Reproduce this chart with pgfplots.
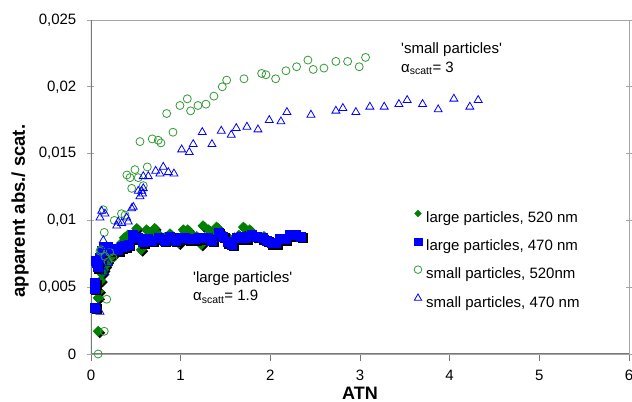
\documentclass[border=0pt]{standalone}
\usepackage{pgfplots}
\pgfplotsset{compat=1.18}
\usepackage{fontspec}
\setmainfont{Liberation Sans}
\definecolor{dgreen}{RGB}{0,128,0}
\definecolor{lgreen}{RGB}{51,153,51}
\definecolor{myblue}{RGB}{0,0,255}
\definecolor{axgray}{RGB}{120,120,120}
\definecolor{frgray}{RGB}{165,165,165}
\begin{document}
\fontsize{15bp}{18bp}\selectfont
\begin{tikzpicture}
\path[use as bounding box] (-91bp,-48bp) rectangle (541bp,354bp);
\begin{axis}[
  scale only axis, width=538bp, height=334bp,
  at={(0,0)}, anchor=south west,
  xmin=0, xmax=6, ymin=0, ymax=0.025,
  xtick={0,1,2,3,4,5,6}, xticklabels={0,1,2,3,4,5,6},
  ytick={0,0.005,0.01,0.015,0.02,0.025},
  yticklabels={0,{0,005},{0,01},{0,015},{0,02},{0,025}},
  scaled y ticks=false,
  axis line style={frgray, line width=0.8bp},
  tick align=center, major tick length=7bp,
  xtick pos=bottom, ytick pos=both,
  x tick style={axgray, line width=0.8bp, yshift=-3.5bp},
  y tick style={frgray, line width=0.8bp},
  ticklabel style={font=\fontsize{15bp}{18bp}\selectfont},
  yticklabel style={xshift=-6bp},
  xticklabel style={yshift=-7bp},
  xlabel={ATN},
  ylabel={apparent abs./ scat.},
  xlabel style={font=\fontsize{18bp}{21bp}\selectfont\bfseries, at={(axis description cs:0.5,-0.117)}, anchor=center},
  ylabel style={font=\fontsize{18.5bp}{21bp}\selectfont\bfseries, at={(axis description cs:-0.132,0.428)}, anchor=center},
  legend style={at={(rel axis cs:0.600,0.431)}, anchor=north west, draw=none, fill=none, row sep=11.5bp, inner sep=0pt, outer sep=0pt,
    nodes={inner sep=0pt, text height=11bp, text depth=4bp, font=\fontsize{15bp}{18bp}\selectfont}},
  legend cell align=left,
  legend image code/.code={\path (0bp,0bp) (12bp,0bp); \draw[#1] plot coordinates {(4bp,5.3bp)};},
]
\addlegendimage{only marks, mark=square*, color=dgreen, mark size=2.4bp, mark options={rotate=45}}
\addlegendentry{large particles, 520 nm}
\addlegendimage{only marks, mark=square*, color=myblue, mark size=3.8bp}
\addlegendentry{large particles, 470 nm}
\addlegendimage{only marks, mark=o, color=lgreen, mark size=3.8bp, mark options={line width=0.8bp}}
\addlegendentry{small particles, 520nm}
\addlegendimage{only marks, mark=triangle, color=myblue, mark size=4.2bp, mark options={line width=0.8bp, yshift=1bp}}
\addlegendentry{small particles, 470 nm}

% large particles 520 nm (diamonds) shadow + marks
\addplot[only marks, forget plot, mark=square*, color=black, mark size=3.6bp, mark options={xshift=1.5bp, yshift=-1.5bp, rotate=45}]
coordinates {(0.08,0.0017) (0.08,0.0042) (0.09,0.0047) (0.11,0.0055) (0.12,0.0060) (0.14,0.0063) (0.16,0.0066) (0.18,0.0069) (0.21,0.0072) (0.24,0.0074) (0.27,0.0077) (0.30,0.0080) (0.34,0.0083) (0.37,0.0087) (0.41,0.0089) (0.45,0.0086) (0.51,0.0094) (0.56,0.0078) (0.58,0.0086) (0.62,0.0093) (0.66,0.0090) (0.71,0.0094) (0.76,0.0089) (0.82,0.0087) (0.88,0.0090) (0.93,0.0087) (0.98,0.0083) (1.03,0.0093) (1.08,0.0093) (1.13,0.0089) (1.18,0.0088) (1.23,0.0082) (1.25,0.0096) (1.31,0.0093) (1.35,0.0090) (1.40,0.0095) (1.45,0.0091) (1.50,0.0088) (1.55,0.0086) (1.60,0.0087) (1.65,0.0089) (1.70,0.0095) (1.77,0.0093) (1.82,0.0088) (1.88,0.0087) (1.93,0.0088)};
\addplot[only marks, forget plot, mark=square*, color=dgreen, mark size=3.6bp, mark options={rotate=45}]
coordinates {(0.08,0.0017) (0.08,0.0042) (0.09,0.0047) (0.11,0.0055) (0.12,0.0060) (0.14,0.0063) (0.16,0.0066) (0.18,0.0069) (0.21,0.0072) (0.24,0.0074) (0.27,0.0077) (0.30,0.0080) (0.34,0.0083) (0.37,0.0087) (0.41,0.0089) (0.45,0.0086) (0.51,0.0094) (0.56,0.0078) (0.58,0.0086) (0.62,0.0093) (0.66,0.0090) (0.71,0.0094) (0.76,0.0089) (0.82,0.0087) (0.88,0.0090) (0.93,0.0087) (0.98,0.0083) (1.03,0.0093) (1.08,0.0093) (1.13,0.0089) (1.18,0.0088) (1.23,0.0082) (1.25,0.0096) (1.31,0.0093) (1.35,0.0090) (1.40,0.0095) (1.45,0.0091) (1.50,0.0088) (1.55,0.0086) (1.60,0.0087) (1.65,0.0089) (1.70,0.0095) (1.77,0.0093) (1.82,0.0088) (1.88,0.0087) (1.93,0.0088)};

% large particles 470 nm (squares) shadow + marks
\addplot[only marks, forget plot, mark=square*, color=black, mark size=4.5bp, mark options={xshift=1.5bp, yshift=-1.5bp}]
coordinates {(0.045,0.0035) (0.04,0.0049) (0.045,0.0053) (0.05,0.0070) (0.06,0.0068) (0.07,0.0065) (0.08,0.0070) (0.10,0.0072) (0.12,0.0077) (0.14,0.0080) (0.16,0.0078) (0.19,0.0080) (0.23,0.0078) (0.27,0.0079) (0.30,0.0078) (0.34,0.0080) (0.38,0.0081) (0.42,0.0082) (0.47,0.0089) (0.52,0.0087) (0.58,0.0084) (0.63,0.0086) (0.68,0.0085) (0.75,0.0087) (0.82,0.0085) (0.88,0.0088) (0.94,0.0085) (1.00,0.0087) (1.05,0.0087) (1.10,0.0086) (1.16,0.0086) (1.20,0.0087) (1.25,0.0087) (1.30,0.0087) (1.35,0.0085) (1.42,0.0091) (1.47,0.0088) (1.52,0.0084) (1.57,0.0082) (1.62,0.0087) (1.68,0.0088) (1.73,0.0087) (1.79,0.0089) (1.85,0.0088) (1.91,0.0087) (1.96,0.0085) (2.01,0.0083) (2.06,0.0083) (2.11,0.0086) (2.17,0.0086) (2.22,0.0089) (2.28,0.0089) (2.34,0.0088)};
\addplot[only marks, forget plot, mark=square*, color=myblue, mark size=4.5bp]
coordinates {(0.045,0.0035) (0.04,0.0049) (0.045,0.0053) (0.05,0.0070) (0.06,0.0068) (0.07,0.0065) (0.08,0.0070) (0.10,0.0072) (0.12,0.0077) (0.14,0.0080) (0.16,0.0078) (0.19,0.0080) (0.23,0.0078) (0.27,0.0079) (0.30,0.0078) (0.34,0.0080) (0.38,0.0081) (0.42,0.0082) (0.47,0.0089) (0.52,0.0087) (0.58,0.0084) (0.63,0.0086) (0.68,0.0085) (0.75,0.0087) (0.82,0.0085) (0.88,0.0088) (0.94,0.0085) (1.00,0.0087) (1.05,0.0087) (1.10,0.0086) (1.16,0.0086) (1.20,0.0087) (1.25,0.0087) (1.30,0.0087) (1.35,0.0085) (1.42,0.0091) (1.47,0.0088) (1.52,0.0084) (1.57,0.0082) (1.62,0.0087) (1.68,0.0088) (1.73,0.0087) (1.79,0.0089) (1.85,0.0088) (1.91,0.0087) (1.96,0.0085) (2.01,0.0083) (2.06,0.0083) (2.11,0.0086) (2.17,0.0086) (2.22,0.0089) (2.28,0.0089) (2.34,0.0088)};

% small particles 520 nm (open circles)
\addplot[only marks, forget plot, mark=o, color=lgreen, mark size=4bp, mark options={line width=0.8bp}]
coordinates {(0.08,0.0000) (0.148,0.0017) (0.175,0.0041) (0.10,0.0077) (0.11,0.0078) (0.156,0.0073) (0.19,0.0069) (0.21,0.0076) (0.245,0.0072) (0.148,0.0091) (0.137,0.0108) (0.26,0.0100) (0.34,0.0105) (0.38,0.0104) (0.40,0.0134) (0.435,0.0132) (0.49,0.0138) (0.527,0.0132) (0.628,0.0140) (0.454,0.0124) (0.583,0.0126) (0.546,0.0159) (0.683,0.0161) (0.75,0.0160) (0.78,0.0158) (0.914,0.0166) (0.844,0.0180) (0.992,0.0186) (1.074,0.0191) (1.111,0.0182) (1.193,0.0186) (1.282,0.0187) (1.371,0.0193) (1.464,0.0200) (1.513,0.0205) (1.706,0.0206) (1.903,0.0210) (1.951,0.0209) (2.059,0.0206) (2.174,0.0212) (2.293,0.0215) (2.419,0.0220) (2.478,0.0213) (2.598,0.0214) (2.731,0.0219) (2.862,0.0219) (2.991,0.0215) (3.062,0.0222)};

% small particles 470 nm (open triangles)
\addplot[only marks, forget plot, mark=triangle, color=myblue, mark size=4.6bp, mark options={line width=0.8bp}]
coordinates {(0.10,0.00315) (0.156,0.0061) (0.193,0.0068) (0.137,0.0085) (0.175,0.0080) (0.10,0.0102) (0.119,0.0107) (0.156,0.0105) (0.287,0.0096) (0.304,0.0099) (0.342,0.0098) (0.398,0.0102) (0.416,0.0099) (0.454,0.0109) (0.472,0.0110) (0.546,0.0118) (0.565,0.0122) (0.583,0.0124) (0.527,0.0122) (0.576,0.0120) (0.639,0.0133) (0.583,0.0133) (0.721,0.0137) (0.769,0.0135) (0.806,0.0140) (0.862,0.0136) (0.925,0.0135) (1.011,0.0153) (1.096,0.0151) (1.140,0.0157) (1.241,0.0166) (1.349,0.0157) (1.453,0.0167) (1.564,0.0164) (1.620,0.0169) (1.739,0.0170) (1.862,0.0168) (1.988,0.0175) (2.118,0.0174) (2.185,0.0181) (2.453,0.0179) (2.731,0.0182) (2.809,0.0184) (2.954,0.0181) (3.110,0.0185) (3.270,0.0185) (3.434,0.0187) (3.526,0.0190) (3.698,0.0187) (3.872,0.0183) (4.047,0.0191) (4.225,0.0185) (4.318,0.0190)};

\draw[axgray, line width=1.3bp] (rel axis cs:0,1) -- (rel axis cs:0,0) -- (rel axis cs:1,0);

\node[anchor=north west, align=left, inner sep=0pt, font=\fontsize{15bp}{19bp}\selectfont] at (axis cs:3.457,0.0233) {\textquotesingle small particles\textquotesingle\\α\textsubscript{scatt}= 3};
\node[anchor=north west, align=left, inner sep=0pt, font=\fontsize{15bp}{18bp}\selectfont] at (axis cs:1.137,0.00615) {\textquotesingle large particles\textquotesingle\\α\textsubscript{scatt}= 1.9};
\end{axis}
\end{tikzpicture}
\end{document}
